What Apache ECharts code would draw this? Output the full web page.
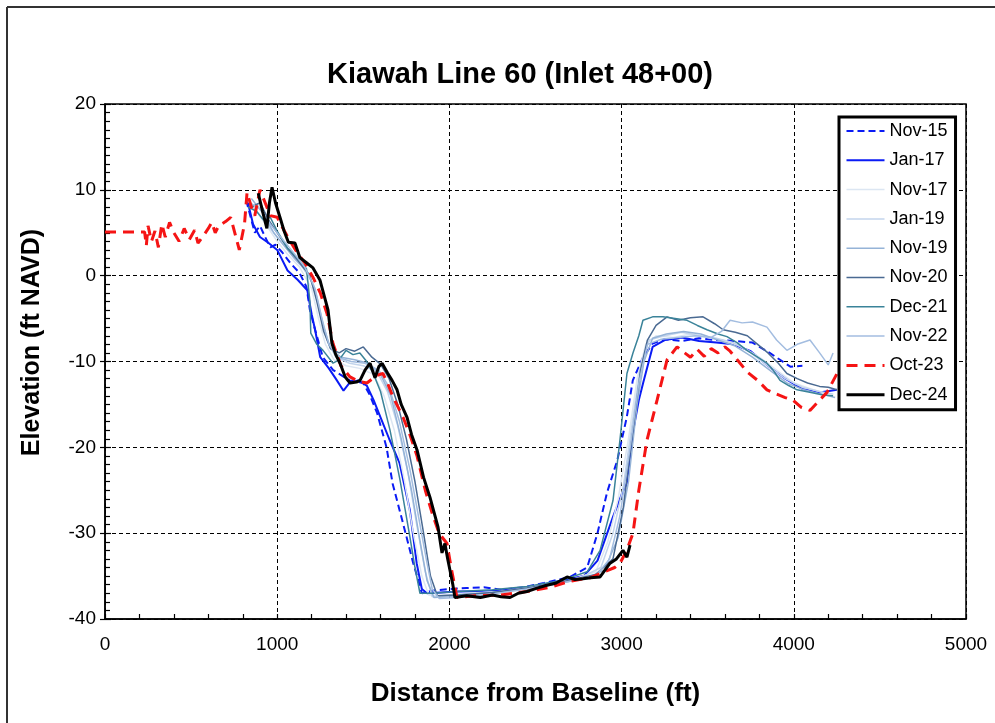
<!DOCTYPE html>
<html>
<head>
<meta charset="utf-8">
<script src="https://cdn.jsdelivr.net/npm/echarts@6/dist/echarts.min.js"></script>
<style>
  html, body { margin: 0; padding: 0; background: #fff; }
  #chart { width: 995px; height: 723px; }
</style>
</head>
<body>
<div id="chart"></div>
<script>
// survey profiles: [distance from baseline (ft), elevation (ft NAVD)]
const nov15 = [[820,8.8],[850,6.5],[870,5],[900,5.8],[930,4.5],[960,3.3],[990,3.6],[1030,2.7],[1075,1.5],[1130,0.3],[1170,-1.3],[1190,-4],[1220,-6.3],[1265,-9.5],[1325,-11],[1420,-12.2],[1500,-12.5],[1540,-14],[1580,-16],[1635,-20],[1670,-24.2],[1730,-28.8],[1790,-33.5],[1815,-35.2],[1840,-37],[1900,-36.7],[2000,-36.5],[2100,-36.4],[2200,-36.3],[2300,-36.6],[2430,-36.3],[2550,-35.8],[2700,-35.1],[2800,-34],[2860,-30],[2915,-25.3],[2975,-21.5],[3030,-16.5],[3065,-12.2],[3125,-9.5],[3180,-7.9],[3250,-7.4],[3350,-7.6],[3450,-7.3],[3550,-7.5],[3650,-7.6],[3760,-7.8],[3860,-9],[3920,-9.8],[3980,-10.6],[4050,-10.5]]
const jan17 = [[830,8.5],[860,6],[900,4.5],[950,3.8],[1000,3],[1060,0.6],[1120,-0.5],[1175,-1.7],[1200,-4.5],[1220,-6.3],[1250,-9.5],[1300,-10.8],[1340,-12],[1385,-13.4],[1420,-12.5],[1470,-12.2],[1520,-12.8],[1560,-14.5],[1600,-16.5],[1650,-19],[1710,-21.8],[1770,-27.3],[1810,-33.5],[1840,-36.5],[1870,-37],[1950,-36.9],[2050,-36.8],[2200,-36.8],[2350,-36.6],[2500,-36.2],[2650,-35.5],[2780,-35],[2860,-33.2],[2950,-28.1],[3000,-25.5],[3030,-24.2],[3065,-18.3],[3100,-14.5],[3125,-12.5],[3180,-8.3],[3250,-7.5],[3350,-7.2],[3450,-7.6],[3550,-7.8],[3650,-8],[3750,-8.8],[3850,-10.5],[3950,-12],[4050,-13.2],[4150,-13.6],[4250,-13.3]]
const nov17 = [[830,9],[880,7.5],[950,5.5],[1000,4],[1060,2.5],[1130,1],[1200,-1.5],[1240,-5],[1280,-8],[1330,-9.8],[1400,-10.5],[1480,-10.8],[1560,-11.5],[1620,-14],[1680,-18],[1740,-24],[1790,-30],[1840,-35],[1880,-37.2],[1950,-37.3],[2100,-37],[2300,-36.8],[2500,-36.2],[2700,-35.5],[2850,-34.5],[2920,-31],[2980,-26],[3040,-19],[3090,-12],[3140,-8],[3200,-7],[3300,-7.2],[3400,-6.8],[3500,-7.2],[3600,-7.6],[3700,-8.3],[3800,-9.5],[3900,-11],[4000,-12.5],[4100,-13.2],[4200,-13.8]]
const jan19 = [[840,8.5],[900,7],[960,5.5],[1010,4.2],[1070,2.8],[1140,1.2],[1210,-1],[1250,-4.5],[1290,-7.5],[1340,-9.5],[1420,-10.2],[1500,-10.5],[1580,-11.2],[1640,-13.5],[1700,-17.5],[1760,-23],[1810,-29],[1860,-34.5],[1900,-37.4],[2000,-37.2],[2150,-37],[2350,-36.7],[2550,-36],[2750,-35.3],[2880,-34],[2950,-30],[3010,-24.5],[3070,-16],[3110,-10.5],[3160,-7.5],[3250,-7],[3350,-6.6],[3450,-7],[3550,-7.3],[3650,-7.8],[3750,-9],[3850,-10.5],[3950,-12],[4050,-13],[4150,-13.5],[4230,-13.8]]
const nov19 = [[850,9],[920,7.2],[980,5],[1040,3.5],[1100,2],[1180,0.3],[1230,-2.5],[1270,-6],[1310,-8.5],[1370,-9.5],[1450,-9.8],[1530,-10.2],[1600,-11.5],[1660,-14],[1720,-19],[1780,-25],[1830,-31],[1870,-35.5],[1910,-37.5],[2000,-37.4],[2200,-37],[2400,-36.6],[2600,-36],[2800,-35.2],[2900,-34.3],[2980,-30.5],[3040,-24],[3090,-15],[3130,-10],[3180,-7.3],[3260,-6.8],[3360,-6.5],[3460,-6.8],[3560,-7.5],[3660,-8.2],[3760,-9.5],[3860,-11],[3960,-12.5],[4060,-13.3],[4160,-13.8],[4240,-14.2]]
const nov20 = [[850,8],[900,8.5],[950,6.5],[1000,5],[1060,3.2],[1120,1.8],[1190,0],[1230,-3],[1270,-6.5],[1310,-8.5],[1360,-9],[1400,-8.5],[1450,-8.8],[1500,-8.3],[1550,-9.5],[1600,-10.3],[1650,-12],[1700,-15],[1750,-19],[1800,-24],[1850,-30],[1890,-35],[1930,-37.3],[2050,-37.2],[2250,-36.9],[2450,-36.4],[2650,-35.7],[2850,-34.8],[2950,-33],[3010,-27],[3060,-19],[3110,-11],[3150,-7.5],[3200,-5.8],[3264,-4.8],[3330,-5.2],[3400,-4.9],[3473,-4.8],[3540,-5.6],[3590,-6.3],[3660,-6.6],[3730,-7],[3790,-8],[3850,-9],[3910,-10.2],[3960,-11.4],[4020,-12],[4080,-12.5],[4150,-12.9],[4200,-13],[4250,-13.3]]
const dec21 = [[830,8],[880,7.5],[920,6.5],[960,6.8],[1000,5.2],[1060,3.2],[1120,2],[1170,0.8],[1190,-3],[1195,-6.7],[1230,-8],[1266,-8.7],[1324,-10.2],[1360,-9.8],[1400,-8.7],[1440,-9.2],[1480,-9],[1520,-10],[1560,-11.5],[1600,-13.5],[1655,-18],[1713,-23.8],[1771,-30.5],[1800,-34],[1829,-37],[1900,-37],[2050,-36.8],[2250,-36.6],[2450,-36.2],[2650,-35.5],[2800,-34.5],[2875,-32],[2950,-26.2],[2990,-19.2],[3031,-11.4],[3066,-9],[3100,-7],[3124,-5.2],[3180,-4.8],[3240,-4.8],[3310,-5],[3380,-5.2],[3440,-5.8],[3496,-6.3],[3560,-6.8],[3612,-7.1],[3670,-7.8],[3728,-8.7],[3790,-9.5],[3844,-10.2],[3880,-11],[3920,-12.2],[3970,-12.8],[4019,-13.3],[4100,-13.6],[4170,-13.9],[4228,-14]]
const nov22 = [[840,8.5],[900,7.8],[960,6],[1020,4.5],[1090,2.8],[1160,1],[1220,-1.5],[1260,-5],[1300,-8],[1350,-9.5],[1430,-10],[1510,-10.2],[1590,-11],[1650,-13],[1710,-17],[1770,-22.5],[1820,-28],[1870,-33.5],[1900,-36.5],[1940,-37.6],[2050,-37.5],[2250,-37.1],[2450,-36.5],[2650,-35.8],[2850,-35],[2930,-33],[2990,-28],[3050,-20],[3100,-12.5],[3150,-8],[3230,-7.4],[3330,-7.2],[3430,-7],[3520,-7.2],[3580,-6.5],[3630,-5.2],[3700,-5.5],[3760,-5.4],[3844,-6],[3900,-7.5],[3960,-8.7],[4020,-8],[4094,-7.5],[4150,-9],[4200,-10.4],[4228,-9]]
const oct23 = [[0,5.1],[230,5.1],[240,3.5],[250,5.8],[270,4],[290,5.2],[310,3.3],[330,6],[350,4.5],[375,6.2],[400,5],[430,4],[460,5.5],[490,4.2],[520,5.3],[540,3.8],[570,4.6],[600,5.5],[620,6.2],[640,5],[660,5.8],[700,6.3],[730,6.8],[760,4.5],[780,3],[800,5],[810,6],[825,9.7],[850,8],[870,7],[900,10],[930,8.5],[960,7],[1000,6.8],[1034,5.5],[1070,4.2],[1115,2.7],[1160,1.5],[1208,-0.2],[1250,-2],[1289,-4.4],[1324,-7.9],[1370,-10.5],[1423,-11.8],[1470,-12.3],[1521,-12.5],[1580,-11.6],[1614,-11.4],[1640,-12.5],[1672,-14.1],[1731,-16.5],[1770,-18.5],[1812,-21],[1860,-25],[1905,-28],[1940,-30],[1986,-31.2],[2010,-34],[2044,-37.5],[2150,-37.3],[2300,-37.2],[2450,-36.8],[2584,-36.3],[2700,-35.6],[2817,-35.2],[2900,-34.5],[2960,-34],[2991,-33.5],[3030,-32],[3066,-30],[3100,-25],[3147,-19.2],[3206,-14.5],[3264,-9.8],[3322,-8.3],[3360,-8.9],[3400,-9.5],[3440,-8.6],[3480,-9.4],[3520,-8.5],[3560,-9],[3600,-8.3],[3630,-8.8],[3680,-10],[3728,-11.2],[3790,-12.2],[3844,-13.3],[3900,-13.8],[3950,-14.2],[3995,-14.5],[4040,-15.3],[4094,-15.7],[4150,-14.5],[4193,-13.6],[4251,-11.4],[4280,-10]]
const dec24 = [[890,9.6],[915,7.5],[940,5.5],[955,8.5],[970,10.3],[990,8.5],[1016,6.8],[1040,5.2],[1065,3.9],[1103,3.8],[1132,2.1],[1170,1.5],[1208,0.9],[1248,-0.5],[1275,-2.5],[1295,-4],[1318,-7.9],[1340,-9.2],[1365,-10.2],[1395,-11.8],[1423,-12.5],[1460,-12.4],[1481,-12.2],[1510,-11],[1539,-10.2],[1568,-11.9],[1590,-10.6],[1609,-10.2],[1640,-11.3],[1667,-12.2],[1696,-13.3],[1720,-15],[1754,-16.5],[1780,-18.5],[1812,-20.3],[1850,-23.5],[1887,-25.8],[1934,-29.3],[1957,-32.3],[1974,-31.2],[1990,-33],[2003,-34.3],[2020,-36],[2032,-37.5],[2100,-37.3],[2180,-37.5],[2250,-37.2],[2300,-37.4],[2352,-37.5],[2400,-37],[2450,-36.8],[2509,-36.4],[2560,-36.1],[2620,-35.8],[2683,-35.1],[2730,-35.4],[2776,-35.3],[2820,-35.2],[2875,-35.1],[2933,-33.5],[2970,-33],[3008,-32],[3031,-32.8],[3049,-31.4]]

const surveyNames = ['Nov-15', 'Jan-17', 'Nov-17', 'Jan-19', 'Nov-19', 'Nov-20', 'Dec-21', 'Nov-22', 'Oct-23', 'Dec-24']
const surveyData = [nov15, jan17, nov17, jan19, nov19, nov20, dec21, nov22, oct23, dec24]

// line look for each survey
const lineStyles = [
  { color: '#0a1bf5', width: 2, type: [7, 4] },
  { color: '#0a1bf5', width: 2, type: 'solid' },
  { color: '#dce6f2', width: 1.5, type: 'solid' },
  { color: '#c3d5ec', width: 1.5, type: 'solid' },
  { color: '#95b3d7', width: 1.5, type: 'solid' },
  { color: '#4a6a92', width: 1.5, type: 'solid' },
  { color: '#3a8399', width: 1.5, type: 'solid' },
  { color: '#a3bde0', width: 1.5, type: 'solid' },
  { color: '#f51414', width: 3, type: [11, 7] },
  { color: '#000000', width: 3, type: 'solid' }
]

const font = 'Liberation Sans, Arial, sans-serif'
const chart = echarts.init(document.getElementById('chart'))

const series = surveyNames.map(function (name, i) {
  return {
    name: name,
    type: 'line',
    data: surveyData[i],
    symbol: 'none',
    showSymbol: false,
    animation: false,
    color: lineStyles[i].color,
    lineStyle: lineStyles[i],
    z: 2 + i
  }
})

// legend keys keep the same strokes as the plotted lines
const legendItems = surveyNames.map(function (name, i) {
  return { name: name, lineStyle: Object.assign({}, lineStyles[i]) }
})

const option = {
  backgroundColor: '#ffffff',
  animation: false,
  title: {
    text: 'Kiawah Line 60 (Inlet 48+00)',
    left: 515,
    top: 55,
    textAlign: 'center',
    textStyle: { fontFamily: font, fontSize: 29, fontWeight: 'bold', color: '#000' }
  },
  graphic: [
    { type: 'line', shape: { x1: 7, y1: 7, x2: 995, y2: 7 }, style: { stroke: '#333', lineWidth: 2 } },
    { type: 'line', shape: { x1: 7, y1: 7, x2: 7, y2: 723 }, style: { stroke: '#333', lineWidth: 2 } }
  ],
  legend: {
    orient: 'vertical',
    left: 839,
    top: 117,
    padding: [5, 8, 6, 6],
    itemWidth: 38,
    itemHeight: 18,
    itemGap: 11.3,
    borderColor: '#000',
    borderWidth: 3,
    backgroundColor: '#fff',
    z: 20,
    itemStyle: { opacity: 0 },
    textStyle: { fontFamily: font, fontSize: 18, color: '#000' },
    data: legendItems
  },
  grid: {
    left: 105,
    right: 29,
    top: 104,
    bottom: 104,
    show: true,
    borderColor: '#000',
    borderWidth: 1.5,
    backgroundColor: 'transparent'
  },
  xAxis: {
    type: 'value',
    min: 0,
    max: 5000,
    interval: 1000,
    name: 'Distance from Baseline (ft)',
    nameLocation: 'middle',
    nameGap: 62,
    nameTextStyle: { fontFamily: font, fontSize: 26, fontWeight: 'bold', color: '#000' },
    axisLine: { show: true, onZero: false, lineStyle: { color: '#000', width: 1.5 } },
    axisTick: { show: true, inside: true, length: 5, lineStyle: { color: '#000', width: 1.2 } },
    minorTick: { show: true, splitNumber: 5, length: 5, lineStyle: { color: '#000', width: 1.2 } },
    axisLabel: {
      fontFamily: font, fontSize: 19, color: '#000', margin: 16,
      formatter: function (v) { return String(v) }
    },
    splitLine: { show: true, lineStyle: { color: '#000', width: 1, type: [4, 3] } }
  },
  yAxis: [
    {
      type: 'value',
      min: -40,
      max: 20,
      interval: 10,
      name: 'Elevation (ft NAVD)',
      nameLocation: 'middle',
      nameGap: 60,
      nameTextStyle: { fontFamily: font, fontSize: 25, fontWeight: 'bold', color: '#000', padding: [0, 0, 0, 38] },
      axisLine: { show: true, onZero: false, lineStyle: { color: '#000', width: 1.5 } },
      axisTick: { show: true, inside: true, length: 6, lineStyle: { color: '#000', width: 1.2 } },
      minorTick: { show: true, splitNumber: 10, length: 5, lineStyle: { color: '#000', width: 1.2 } },
      axisLabel: { fontFamily: font, fontSize: 19, color: '#000', margin: 9 },
      splitLine: { show: true, lineStyle: { color: '#000', width: 1, type: [4, 3] } }
    },
    {
      // outward stubs of the major ticks
      type: 'value',
      min: -40,
      max: 20,
      interval: 10,
      position: 'left',
      axisLine: { show: false },
      axisTick: { show: true, inside: false, length: 5, lineStyle: { color: '#000', width: 1.2 } },
      axisLabel: { show: false },
      splitLine: { show: false }
    }
  ],
  series: series
}

chart.setOption(option)
</script>
</body>
</html>
